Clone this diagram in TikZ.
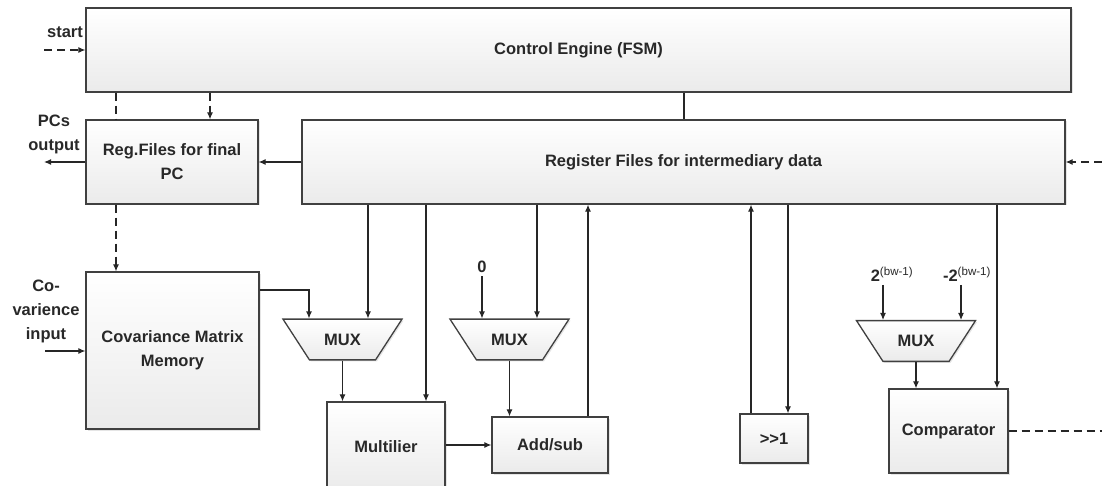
\documentclass[tikz,border=0pt]{standalone}
\usepackage{fontspec}
\setmainfont{Liberation Sans}
\usetikzlibrary{arrows.meta,shapes.geometric,shadows}
\definecolor{edgegray}{RGB}{64,64,64}
\definecolor{textgray}{RGB}{40,40,40}
\tikzset{
    every node/.style={font=\fontsize{16.5}{24}\selectfont\bfseries, text=textgray},
    block/.style={draw=edgegray, line width=1.3pt, top color=white, bottom color=black!8,
        drop shadow={shadow xshift=1.5pt, shadow yshift=-1.5pt, fill=black!20},
        align=center, inner sep=0pt},
    mux/.style={block, trapezium, trapezium angle=57, trapezium stretches body,
        shape border rotate=180, inner xsep=0pt, inner ysep=14.6pt, minimum width=119},
    wire/.style={line width=1.1pt, draw=black!85},
    arr/.style={wire, -{Latex[length=7pt,width=6pt]}},
    dashwire/.style={dash pattern=on 8pt off 5pt}
}
\begin{document}
\begin{tikzpicture}[x=1pt,y=-1pt]
            \useasboundingbox (0,0) rectangle (1102,486);
            \node [block, minimum width=985, minimum height=84] (ctrl) at (578.5,50) {Control Engine (FSM)};
            \node [block, minimum width=172, minimum height=84] (regfin) at (172,162) {Reg.Files for final\\PC};
            \node [block, minimum width=763, minimum height=84] (regint) at (683.5,162) {Register Files for intermediary data};
            \node [block, minimum width=173, minimum height=157] (cov) at (172.5,350.5) {Covariance Matrix\\Memory};
            \node [mux] (mux1) at (342.5,339.5) {MUX};
            \node [mux] (mux2) at (509.5,339.5) {MUX};
            \node [mux] (mux3) at (916,341) {MUX};
            \node [block, minimum width=118, minimum height=90] (mult) at (386,447) {Multilier};
            \node [block, minimum width=116, minimum height=56] (addsub) at (550,445) {Add/sub};
            \node [block, minimum width=68, minimum height=49] (shift) at (774,438.5) {>\kern0pt>\kern0pt1};
            \node [block, minimum width=119, minimum height=84] (comp) at (948.5,431) {Comparator};
            \node (startlbl) at (65,32) {start};
            \node [align=center] (pcslbl) at (54,134) {PCs\\output};
            \node [align=center] (covlbl) at (46,311) {Co-\\varience\\input};
            \node (zero) at (482,267) {0};
            \node (pwr) at (892,274) {2\textsuperscript{\mdseries(bw-1)}};
            \node (negpwr) at (967,274) {-2\textsuperscript{\mdseries(bw-1)}};
            \coordinate (startin) at (44,50);
            \coordinate (pcsout) at (44,162);
            \coordinate (covin) at (45,351);
            \coordinate (extin) at (1102,162);
            \coordinate (compout) at (1102,431);
            \draw [arr, dashwire] (startin) -- (ctrl.west);
            \draw [wire, dashwire] (ctrl.south -| 116,0) -- (regfin.north -| 116,0);
            \draw [arr, dashwire] (regfin.south -| 116,0) -- (cov.north -| 116,0);
            \draw [arr, dashwire] (ctrl.south -| 210,0) -- (regfin.north -| 210,0);
            \draw [wire] (ctrl.south -| 684,0) -- (regint.north -| 684,0);
            \draw [arr] (regint.west) -- (regfin.east);
            \draw [arr] (regfin.west) -- (pcsout);
            \draw [arr, dashwire] (extin) -- (regint.east);
            \draw [arr] (covin) -- (cov.west |- covin);
            \draw [arr] (cov.east |- 0,290) -| (mux1.north -| 309,0);
            \draw [arr] (regint.south -| 368,0) -- (mux1.north -| 368,0);
            \draw [arr] (regint.south -| 426,0) -- (mult.north -| 426,0);
            \draw [arr] (mux1.south) -- (mux1.south |- mult.north);
            \draw [arr] (zero.south) -- (mux2.north -| zero.south);
            \draw [arr] (regint.south -| 537,0) -- (mux2.north -| 537,0);
            \draw [arr] (mux2.south) -- (mux2.south |- addsub.north);
            \draw [arr] (addsub.north -| 588,0) -- (regint.south -| 588,0);
            \draw [arr] (mult.east |- addsub.west) -- (addsub.west);
            \draw [arr] (shift.north -| 751,0) -- (regint.south -| 751,0);
            \draw [arr] (regint.south -| 788,0) -- (shift.north -| 788,0);
            \draw [arr] (pwr.south -| 883,0) -- (mux3.north -| 883,0);
            \draw [arr] (negpwr.south -| 961,0) -- (mux3.north -| 961,0);
            \draw [arr] (mux3.south) -- (mux3.south |- comp.north);
            \draw [arr] (regint.south -| 997,0) -- (comp.north -| 997,0);
            \draw [wire, dashwire] (comp.east) -- (compout);
        \end{tikzpicture}
\end{document}
